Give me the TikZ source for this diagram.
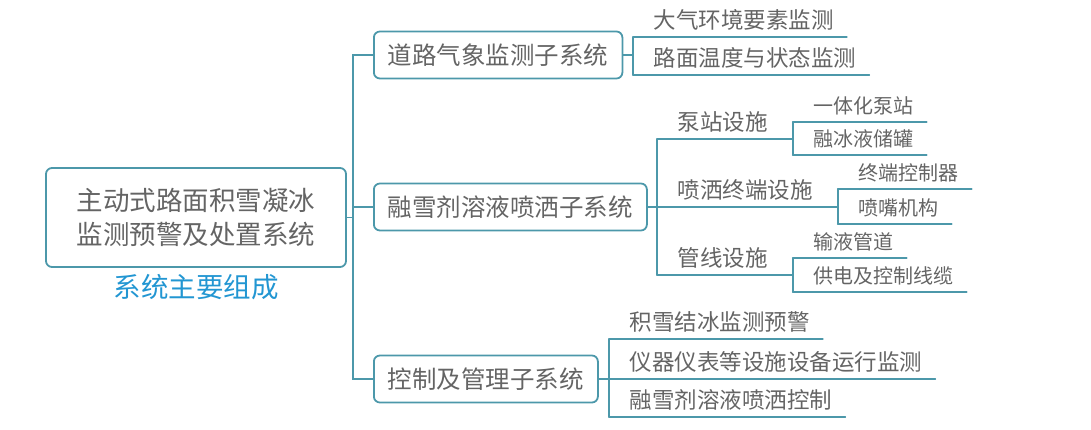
\documentclass[tikz,border=0pt]{standalone}
\usepackage{fontspec}
\setmainfont{Noto Sans CJK SC}
\usetikzlibrary{positioning,calc}
\definecolor{mindLine}{RGB}{76,152,170}
\definecolor{mindText}{RGB}{100,100,100}
\definecolor{mindBlue}{RGB}{34,150,210}

\begin{document}
\begin{tikzpicture}[
  x=1pt, y=-1pt,
  line width=1.8pt, line cap=round, draw=mindLine,
  box/.style={draw=mindLine, rounded corners=6pt, text=mindText, anchor=west,
              inner xsep=14pt, minimum height=47pt, font=\fontsize{24.5}{29}\selectfont},
  root/.style={box, anchor=center, align=center, minimum width=300pt,
               minimum height=99pt, font=\fontsize{26.5}{34}\selectfont},
  caption/.style={text=mindBlue, inner sep=0pt, font=\fontsize{27.5}{32}\selectfont},
  leaf/.style={anchor=south west, inner sep=0pt, inner ysep=8pt, text depth=0pt,
               text=mindText, font=\fontsize{22.5}{27}\selectfont,
               execute at begin node=\hspace{20pt}, execute at end node=\hspace{#1}},
  leaf/.default=12pt,
  twig/.style={leaf, font=\fontsize{20}{24}\selectfont}
]
\useasboundingbox (0,0) rectangle (1091,430);

% main topic
\node[root] (root) at (196,217.5) {主动式路面积雪凝冰\\监测预警及处置系统};
\node[caption] (cap) at (196,287) {系统主要组成};
\coordinate (spine) at (353,217.5);

% subsystems
\node[box] (sub1) at (373,55) {道路气象监测子系统};
\node[box] (sub2) at (373,207) {融雪剂溶液喷洒子系统};
\node[box] (sub3) at (373,379) {控制及管理子系统};

% weather monitoring
\node[leaf] (a1) at (633,37) {大气环境要素监测};
\node[leaf] (a2) at (633,75) {路面温度与状态监测};

% spraying
\node[leaf=24pt] (b1) at (657,139) {泵站设施};
\node[leaf=24pt] (b2) at (657,207) {喷洒终端设施};
\node[leaf=24pt] (b3) at (657,275) {管线设施};
\node[twig] (b11) at ([yshift=17pt]b1.south east) {一体化泵站};
\node[twig] (b12) at ([yshift=-16pt]b1.south east) {融冰液储罐};
\node[twig] (b21) at ([yshift=18pt]b2.south east) {终端控制器};
\node[twig] (b22) at ([yshift=-17pt]b2.south east) {喷嘴机构};
\node[twig] (b31) at ([yshift=17pt]b3.south east) {输液管道};
\node[twig] (b32) at ([yshift=-17pt]b3.south east) {供电及控制线缆};

% control and management
\node[leaf] (c1) at (609,339) {积雪结冰监测预警};
\node[leaf] (c2) at (609,379) {仪器仪表等设施设备运行监测};
\node[leaf] (c3) at (609,417) {融雪剂溶液喷洒控制};

% connectors
\draw (root.east) -- (spine);
\draw (spine) |- (sub1.west);
\draw (spine) |- (sub3.west);
\draw (sub2.west -| spine) -- (sub2.west);
\draw (sub1.east) -- (sub1.east -| a1.south west);
\draw (sub2.east) -- (b2.south west);
\draw (sub3.east) -- (c2.south west);
\draw (a1.south west) -- (a2.south west);
\draw (b1.south west) -- (b3.south west);
\draw (b11.south west) -- (b12.south west);
\draw (b21.south west) -- (b22.south west);
\draw (b31.south west) -- (b32.south west);
\draw (c1.south west) -- (c3.south west);
\foreach \n in {a1,a2,b1,b2,b3,b11,b12,b21,b22,b31,b32,c1,c2,c3}
  \draw (\n.south west) -- (\n.south east);
\end{tikzpicture}
\end{document}
